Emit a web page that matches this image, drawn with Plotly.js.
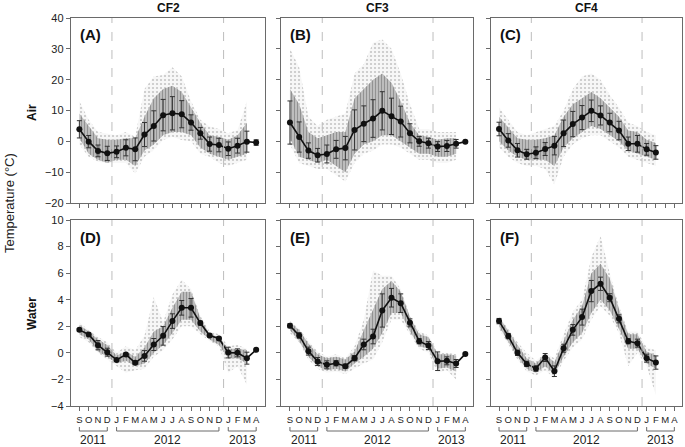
<!DOCTYPE html>
<html><head><meta charset="utf-8">
<script src="https://cdn.plot.ly/plotly-3.0.1.min.js"></script>
<style>html,body{margin:0;padding:0;background:#fff}#chart{width:685px;height:447px}</style>
</head><body><div id="chart"></div>
<script>
const months = ['S','O','N','D','J','F','M','A','M','J','J','A','S','O','N','D','J','F','M','A'];
const years = ['2011','2012','2013'];
const yearFirstMonth = [0,4,16];
const yearLastMonth = [3,15,19];
const sites = ['CF2','CF3','CF4'];
const media = ['Air','Water'];
const panelTags = ['(A)','(B)','(C)','(D)','(E)','(F)'];

// (A) CF2 air
const airCF2Mean = [3.9,-0.1,-3.1,-3.9,-3.4,-2.1,-2.6,2.2,5.0,8.5,9.1,8.8,6.1,2.6,-0.9,-1.2,-2.4,-1.4,-0.1,-0.4];
const airCF2SD   = [2.8,2.0,1.9,2.3,1.9,2.6,3.7,3.9,4.9,5.1,5.4,4.4,2.5,1.9,2.3,2.2,2.2,2.4,3.4,0.9];
const airCF2OuterHi = [13,7,3,2.6,2,3,1.5,17,21,21.5,24,21,13,7,4.8,4,2.6,3.7,13,null];
const airCF2InnerHi = [9,5,1,0.5,0.5,1,1,8,14,17,18,16,11,6,2,1.5,0.5,2,6,null];
const airCF2InnerLo = [1,-4,-6,-7,-6,-6,-8,-3,-1,2,3,3,2,-2,-4,-5,-6,-5,-4,null];
const airCF2OuterLo = [-1,-5,-6.6,-7,-7,-7,-10.4,-5,-2.8,0.4,1.5,0.4,0,-4,-5,-7,-8,-7,-6,null];

// (B) CF3 air
const airCF3Mean = [6.1,1.4,-3.0,-4.5,-4.1,-2.6,-2.2,3.7,5.7,7.4,9.9,8.1,6.4,2.6,0,-0.6,-1.7,-1.5,-0.8,-0.1];
const airCF3SD   = [7.0,4.9,2.5,2.2,2.9,2.9,3.8,6.5,5.8,6.1,6.2,5.9,5.0,3.1,1.6,1.6,1.6,1.8,1.4,0.4];
const airCF3OuterHi = [30,24,8,5,7,8,9,22,25,32,33,30,22,12,4,4,3,3,3,null];
const airCF3InnerHi = [17,12,3,1,2,3,3,14,17,20,22,19,13,6,2,1.5,0.5,1,1,null];
const airCF3InnerLo = [1,-5,-6,-7,-6,-8,-10,-4,-1,0,2,2,0,-2,-4,-4,-5,-5,-4,null];
const airCF3OuterLo = [-1,-7,-8,-9,-9,-11,-13,-7,-4,-3,-1,-1,-2,-4,-6,-6,-7,-7,-6,null];

// (C) CF4 air
const airCF4Mean = [4.0,0.3,-2.9,-4.2,-3.7,-2.5,-1.4,2.6,5.6,7.7,9.9,8.4,6.1,3.5,-0.8,-0.8,-2.6,-3.6];
const airCF4SD   = [2.2,2.2,2.2,1.6,1.9,2.1,3.0,4.3,4.1,3.9,3.5,3.1,3.0,3.0,2.2,2.7,1.9,2.2];
const airCF4OuterHi = [11,7,3,2,3,4,5,10,17,21,22,20,15,11,6,5,3,2];
const airCF4InnerHi = [8,4.5,1,0.5,0.5,1,2,8,12,14,16,14,11,8,3.5,3,0.5,-0.5];
const airCF4InnerLo = [0,-3,-5,-6,-6,-6,-8,-2,1,3,5,4,2,0,-3,-4,-5,-6];
const airCF4OuterLo = [-2,-5,-7,-8,-8,-9,-14,-5,-1,1,2,2,0,-2,-5,-6,-7,-8];

// (D) CF2 water
const waterCF2Mean = [1.73,1.38,0.58,0.05,-0.53,-0.13,-0.75,-0.23,0.63,1.28,2.39,3.39,3.39,2.24,1.31,1.08,0.02,0,-0.4,0.23];
const waterCF2SD   = [0.1,0.1,0.35,0.3,0.1,0.1,0.1,0.4,0.45,0.7,0.55,0.55,0.7,0.15,0.1,0.1,0.4,0.3,0.45,0.05];
const waterCF2OuterHi = [2.3,1.7,1.2,0.8,0,0.5,0.2,1.3,4.2,2.3,4.4,5.5,4.8,2.8,1.6,1.4,0.5,0.6,0.3,null];
const waterCF2InnerHi = [2.1,1.6,1.0,0.6,-0.2,0.1,-0.3,0.4,1.6,2.0,3.4,4.6,4.6,2.6,1.4,1.2,0.3,0.3,0.2,null];
const waterCF2InnerLo = [1.4,1.0,0.1,-0.3,-0.8,-0.6,-1.0,-0.8,0,0.6,1.5,2.5,2.5,1.6,1.0,0.6,-0.4,-0.4,-0.8,null];
const waterCF2OuterLo = [1.2,0.8,0,-0.5,-1.0,-1.5,-1.3,-1.2,-0.3,0.2,1.0,2.0,2.0,1.4,0.9,0.5,-1.5,-1.0,-2.4,null];

// (E) CF3 water
const waterCF3Mean = [2.04,1.31,0.13,-0.65,-0.9,-0.78,-1.0,-0.4,0.63,1.23,3.19,4.15,3.74,2.26,0.88,0.55,-0.63,-0.6,-0.8,-0.08];
const waterCF3SD   = [0.15,0.2,0.3,0.3,0.3,0.2,0.15,0.2,0.4,0.55,1.25,0.7,0.7,0.3,0.2,0.3,0.7,0.3,0.3,0.05];
const waterCF3OuterHi = [2.4,1.8,0.9,0.1,-0.3,-0.1,-0.4,0.5,2.5,6.2,5.8,5.8,4.8,2.8,1.6,1.3,0,0,-0.1,null];
const waterCF3InnerHi = [2.3,1.7,0.7,-0.1,-0.4,-0.3,-0.5,0.1,1.7,3.2,4.8,5.4,4.6,2.7,1.4,1.2,-0.1,-0.1,-0.2,null];
const waterCF3InnerLo = [1.7,0.9,-0.3,-1.0,-1.3,-1.2,-1.4,-0.8,-0.3,0.3,1.5,3.0,3.0,1.6,0.5,0.3,-1.2,-1.1,-1.4,null];
const waterCF3OuterLo = [1.5,0.8,-0.5,-1.2,-1.5,-1.4,-1.6,-1.2,-0.8,-0.5,0.8,2.5,2.5,1.4,0.3,0,-1.5,-1.3,-2.0,null];

// (F) CF4 water
const waterCF4Mean = [2.39,1.26,0,-0.83,-1.18,-0.35,-1.38,0.35,1.73,2.69,4.65,5.2,4.15,2.56,0.88,0.73,-0.4,-0.73];
const waterCF4SD   = [0.2,0.2,0.2,0.2,0.2,0.3,0.4,0.3,0.4,0.6,0.8,0.5,0.3,0.3,0.2,0.3,0.3,0.5];
const waterCF4OuterHi = [2.8,1.8,0.8,0,-0.6,0,-0.4,1.4,3.1,4.0,7.2,8.8,6.0,3.5,1.6,1.6,0.4,0.2];
const waterCF4InnerHi = [2.7,1.6,0.6,-0.4,-0.8,-0.1,-0.7,0.9,2.5,3.5,6.0,6.7,5.6,3.3,1.4,1.4,0.1,-0.2];
const waterCF4InnerLo = [2.0,0.9,-0.3,-1.2,-1.5,-1.0,-1.6,-0.3,0.8,1.5,3.0,4.0,3.2,1.8,0.3,0.3,-0.8,-1.2];
const waterCF4OuterLo = [1.8,0.7,-0.5,-1.4,-1.7,-1.3,-1.9,-0.6,0.4,1.0,2.5,3.5,2.8,1.5,-1.0,0,-1.0,-3.2];

const panels = [
  {mean:airCF2Mean, sd:airCF2SD, oh:airCF2OuterHi, ih:airCF2InnerHi, il:airCF2InnerLo, ol:airCF2OuterLo},
  {mean:airCF3Mean, sd:airCF3SD, oh:airCF3OuterHi, ih:airCF3InnerHi, il:airCF3InnerLo, ol:airCF3OuterLo},
  {mean:airCF4Mean, sd:airCF4SD, oh:airCF4OuterHi, ih:airCF4InnerHi, il:airCF4InnerLo, ol:airCF4OuterLo},
  {mean:waterCF2Mean, sd:waterCF2SD, oh:waterCF2OuterHi, ih:waterCF2InnerHi, il:waterCF2InnerLo, ol:waterCF2OuterLo},
  {mean:waterCF3Mean, sd:waterCF3SD, oh:waterCF3OuterHi, ih:waterCF3InnerHi, il:waterCF3InnerLo, ol:waterCF3OuterLo},
  {mean:waterCF4Mean, sd:waterCF4SD, oh:waterCF4OuterHi, ih:waterCF4InnerHi, il:waterCF4InnerLo, ol:waterCF4OuterLo}
];

const W = 685, H = 447;
const colPx = [[71,265],[281,473],[491,682]];
const rowPx = [[18,203],[220,406]];
const colRanges = [[-0.9,19.95],[-0.97,19.83],[-0.87,19.83]];
const rowRanges = [[-20,40],[-4,10]];
const rowDtick = [10,2];
const axisCol = '#6a6a6a';
const font = 'Liberation Sans, Arial, sans-serif';

const traces = [];
const layout = {
  width:W, height:H, margin:{l:0,r:0,t:0,b:0}, showlegend:false,
  paper_bgcolor:'#fff', plot_bgcolor:'#fff',
  font:{family:font, color:'#222'},
  shapes:[], annotations:[]
};

panels.forEach((p,i)=>{
  const n = i+1, col = i%3, row = Math.floor(i/3);
  const xa = 'x'+(n===1?'':n), ya = 'y'+(n===1?'':n);
  const xs = p.mean.map((v,k)=>k);
  const band = (lo,hi,color,pattern)=>{
    traces.push({x:xs, y:lo, xaxis:xa, yaxis:ya, type:'scatter', mode:'lines', line:{width:0,color:color}, hoverinfo:'skip'});
    traces.push({x:xs, y:hi, xaxis:xa, yaxis:ya, type:'scatter', mode:'lines', line:{width:0,color:color}, fill:'tonexty', fillcolor:color, fillpattern:pattern, hoverinfo:'skip'});
  };
  band(p.ol, p.oh, '#f4f4f4', {shape:'.', bgcolor:'#f7f7f7', fgcolor:'#c6c6c6', size:4, solidity:0.22});
  band(p.il, p.ih, '#b0b0b0', {shape:'|', bgcolor:'#d2d2d2', fgcolor:'#929292', size:3, solidity:0.55});
  traces.push({x:xs, y:p.mean, xaxis:xa, yaxis:ya, type:'scatter', mode:'lines+markers',
    line:{color:'#111', width:1.6}, marker:{color:'#111', size:6},
    error_y:{type:'data', array:p.sd, visible:true, color:'#333', thickness:1, width:2.5}});

  const xk = 'xaxis'+(n===1?'':n), yk = 'yaxis'+(n===1?'':n);
  layout[xk] = {
    domain:[colPx[col][0]/W, colPx[col][1]/W], anchor:ya, range:colRanges[col],
    tickvals:months.map((m,k)=>k), ticktext:months, showticklabels:row===1, tickangle:0,
    ticks:'outside', ticklen:4, tickcolor:axisCol, tickwidth:1,
    showline:true, mirror:true, linecolor:axisCol, linewidth:1.2,
    showgrid:false, zeroline:false, tickfont:{size:9.5, color:'#222'}
  };
  layout[yk] = {
    domain:[1-rowPx[row][1]/H, 1-rowPx[row][0]/H], anchor:xa, range:rowRanges[row], dtick:rowDtick[row],
    showticklabels:col===0, ticks:'outside', ticklen:4, tickcolor:axisCol, tickwidth:1,
    showline:true, mirror:true, linecolor:axisCol, linewidth:1.2,
    showgrid:false, zeroline:false, tickfont:{size:11, color:'#222'}
  };
  [yearFirstMonth[1], yearFirstMonth[2]].forEach(b=>{
    layout.shapes.push({type:'line', xref:xa, yref:ya+' domain', x0:b-0.5, x1:b-0.5, y0:0, y1:1,
      line:{color:'#bdbdbd', width:1, dash:'dash'}});
  });
  layout.annotations.push({xref:xa+' domain', yref:ya+' domain', x:0.035, y:0.965, xanchor:'left', yanchor:'top',
    text:'<b>'+panelTags[i]+'</b>', showarrow:false, font:{size:15, color:'#111', family:font}});
  if(row===0){
    layout.annotations.push({xref:xa+' domain', yref:'paper', x:0.5, y:1-8.5/H, xanchor:'center', yanchor:'middle',
      text:'<b>'+sites[col]+'</b>', showarrow:false, font:{size:12, color:'#111', family:font}});
  } else {
    years.forEach((yr,k)=>{
      const x0 = yearFirstMonth[k], x1 = yearLastMonth[k];
      const yB = 1-431/H, yT = 1-427/H;
      layout.shapes.push({type:'path', xref:xa, yref:'paper',
        path:`M ${x0},${yT} L ${x0},${yB} L ${x1},${yB} L ${x1},${yT}`, line:{color:axisCol, width:1}});
      layout.annotations.push({xref:xa, yref:'paper', x:(x0+x1)/2, y:1-440/H, xanchor:'center', yanchor:'middle',
        text:yr, showarrow:false, font:{size:12, color:'#222', family:font}});
    });
  }
});

layout.annotations.push({xref:'paper', yref:'paper', x:9/W, y:1-203/H, textangle:-90, xanchor:'center', yanchor:'middle',
  text:'Temperature (°C)', showarrow:false, font:{size:13, color:'#222', family:font}});
media.forEach((m,r)=>{
  layout.annotations.push({xref:'paper', yref:'paper', x:32/W, y:1-(r===0?112:313)/H, textangle:-90,
    xanchor:'center', yanchor:'middle', text:'<b>'+m+'</b>', showarrow:false, font:{size:12, color:'#111', family:font}});
});

Plotly.newPlot('chart', traces, layout, {staticPlot:true, displayModeBar:false});
</script></body></html>
